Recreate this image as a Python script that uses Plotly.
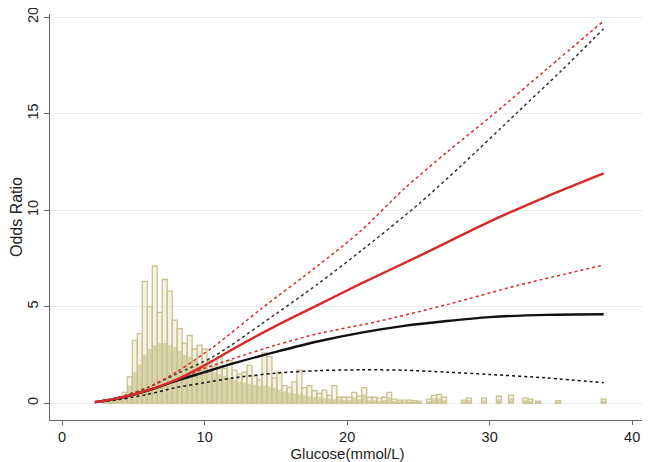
import plotly.graph_objects as go

# ---- histogram (glucose distribution) ----
hist_x = [3.0, 3.35, 3.7, 4.05, 4.4, 4.75, 5.1, 5.45, 5.8, 6.15, 6.5, 6.85, 7.2, 7.55, 7.9,
          8.25, 8.6, 8.95, 9.3, 9.65, 10.0, 10.35, 10.7, 11.05, 11.4, 11.75, 12.1, 12.45,
          12.8, 13.15, 13.5, 13.85, 14.2, 14.55, 14.9, 15.25, 15.6, 15.95, 16.3, 16.65,
          17.0, 17.35, 17.7, 18.05, 18.4, 18.75, 19.1, 19.45, 19.8,
          20.15, 20.5, 20.85, 21.2, 21.55, 21.9, 22.25, 22.6, 22.95, 23.3, 23.65, 24.0,
          24.35, 24.7, 25.05, 25.75, 26.1, 26.45, 26.8, 28.2, 28.55, 29.6, 30.65, 31.5,
          32.5, 32.85, 33.4, 34.8, 38.0]
hist_outline = [0.05, 0.1, 0.15, 0.3, 0.55, 1.35, 3.25, 3.6, 6.3, 5.0, 7.1, 4.7, 6.4, 5.8, 4.3,
                3.85, 3.1, 3.5, 2.8, 3.0, 2.8, 2.2, 1.9, 2.4, 1.8, 2.2, 1.7, 1.5,
                1.6, 1.95, 1.4, 1.2, 2.6, 2.4, 1.3, 1.6, 0.9, 0.8, 1.1, 1.7,
                0.8, 0.9, 0.65, 0.5, 0.67, 0.4, 0.9, 0.3, 0.3,
                0.3, 0.55, 0.35, 0.8, 0.3, 0.3, 0.25, 0.3, 0.55, 0.2, 0.15, 0.15,
                0.15, 0.12, 0.1, 0.2, 0.4, 0.45, 0.3, 0.15, 0.25, 0.25, 0.35, 0.4,
                0.25, 0.2, 0.1, 0.12, 0.2]
hist_fill = [0.05, 0.08, 0.12, 0.25, 0.4, 0.9, 1.6, 2.0, 2.5, 2.8, 3.0, 3.1, 3.1, 3.0, 2.9,
             2.7, 2.5, 2.4, 2.2, 2.0, 1.9, 1.7, 1.6, 1.5, 1.4, 1.3, 1.2, 1.1,
             1.05, 1.0, 0.95, 0.9, 0.9, 0.85, 0.8, 0.7, 0.6, 0.55, 0.5, 0.45,
             0.4, 0.35, 0.3, 0.3, 0.25, 0.25, 0.2, 0.2, 0.15,
             0.15, 0.3, 0.2, 0.45, 0.15, 0.15, 0.12, 0.15, 0.3, 0.1, 0.08, 0.08,
             0.08, 0.06, 0.05, 0.1, 0.25, 0.25, 0.15, 0.08, 0.15, 0.15, 0.2, 0.25,
             0.15, 0.1, 0.05, 0.07, 0.12]

# ---- model 1 (black) ----
blk_x = [2.3, 4, 6, 8, 10, 12, 15, 18, 21, 24, 27, 30, 34, 38]
blk_or = [0.04, 0.25, 0.65, 1.15, 1.6, 2.05, 2.65, 3.2, 3.65, 4.0, 4.25, 4.45, 4.57, 4.6]
blk_lo = [0.03, 0.18, 0.45, 0.8, 1.05, 1.3, 1.55, 1.68, 1.72, 1.7, 1.6, 1.48, 1.3, 1.05]
blk_hi_x = [2.3, 4, 6, 8, 10.6, 14, 18, 21, 25, 28, 32, 35, 38]
blk_hi = [0.05, 0.3, 0.8, 1.5, 2.4, 4.1, 6.2, 7.9, 10.3, 12.3, 15.1, 17.2, 19.4]

# ---- model 2 (red) ----
red_x = [2.3, 4, 6, 8, 10, 12, 15, 18, 21, 25, 30, 34, 38]
red_or = [0.05, 0.25, 0.65, 1.2, 1.95, 2.8, 4.0, 5.1, 6.2, 7.6, 9.4, 10.7, 11.9]
red_lo_x = [2.3, 4, 6, 8, 10, 12, 15, 18, 22, 27, 32, 38]
red_lo = [0.04, 0.25, 0.65, 1.2, 1.8, 2.3, 3.0, 3.6, 4.2, 5.1, 6.1, 7.15]
red_hi_x = [2.3, 4, 6, 8, 10.6, 14, 18, 21, 24, 27, 30, 34, 38]
red_hi = [0.06, 0.3, 0.8, 1.6, 2.9, 4.9, 7.15, 8.95, 11.1, 13.0, 14.8, 17.3, 19.8]

x_ticks = [0, 10, 20, 30, 40]
y_ticks = [0, 5, 10, 15, 20]

KHAKI_LINE = "#c9c28e"
KHAKI_FILL = "#d6d0a6"
RED = "#d42a2a"
BLACK = "#111111"

fig = go.Figure()
fig.add_trace(go.Bar(x=hist_x, y=hist_fill, width=0.35,
                     marker=dict(color=KHAKI_FILL, line=dict(width=0))))
fig.add_trace(go.Bar(x=hist_x, y=hist_outline, width=0.35,
                     marker=dict(color="rgba(225,220,185,0.35)",
                                 line=dict(color=KHAKI_LINE, width=1.3))))

def add_line(x, y, color, dash, width):
    fig.add_trace(go.Scatter(x=x, y=y, mode="lines",
                             line=dict(color=color, dash=dash, width=width, shape="spline", smoothing=0.8)))

add_line(blk_x, blk_lo, BLACK, "dot", 1.5)
add_line(blk_hi_x, blk_hi, "#333333", "dot", 1.5)
add_line(blk_x, blk_or, BLACK, "solid", 2.4)
add_line(red_lo_x, red_lo, RED, "dot", 1.5)
add_line(red_hi_x, red_hi, RED, "dot", 1.5)
add_line(red_x, red_or, RED, "solid", 2.4)

FONT = "Liberation Sans, Arial, sans-serif"
fig.update_layout(
    width=642, height=454,
    margin=dict(l=42, r=5, t=6, b=42, autoexpand=False),
    paper_bgcolor="white", plot_bgcolor="white",
    showlegend=False, barmode="overlay",
    font=dict(family=FONT, size=15, color="#222222"),
)
fig.update_xaxes(range=[-0.85, 40.9], tickmode="array", tickvals=x_ticks,
                 automargin=False, tickfont=dict(family=FONT, size=14.5, color="#222222"),
                 ticks="outside", ticklen=4, tickcolor="#666666",
                 showline=True, linecolor="#666666", linewidth=1,
                 showgrid=False, zeroline=False,
                 title=dict(text="Glucose(mmol/L)", standoff=0,
                            font=dict(family=FONT, size=15, color="#222222")))
fig.update_yaxes(range=[-0.88, 20.16], tickmode="array", tickvals=y_ticks,
                 automargin=False, tickangle=-90, ticklabeloverflow="allow",
                 tickfont=dict(family=FONT, size=14.5, color="#222222"),
                 ticks="outside", ticklen=5, tickcolor="#666666",
                 showline=True, linecolor="#666666", linewidth=1,
                 showgrid=True, gridcolor="#e6eeee", gridwidth=1, zeroline=False,
                 title=dict(text="Odds Ratio", standoff=0,
                            font=dict(family=FONT, size=16, color="#222222")))

fig.write_html("out.html")
